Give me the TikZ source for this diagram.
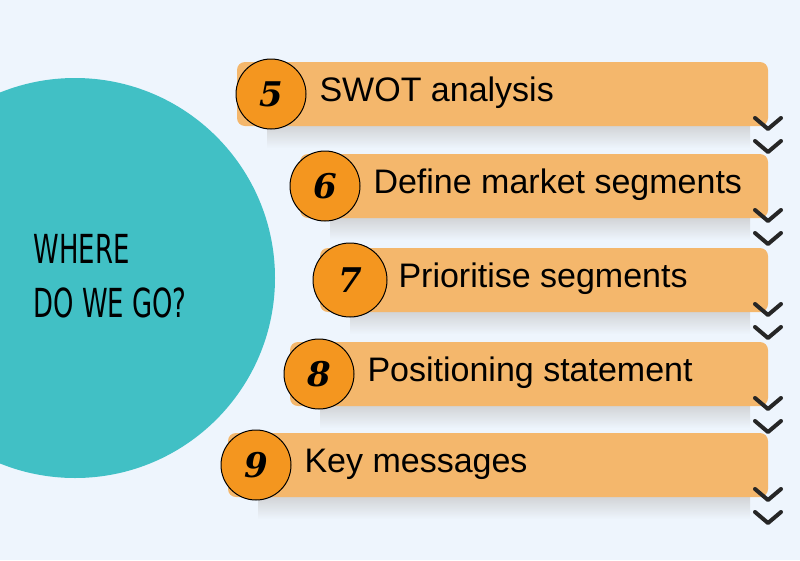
\documentclass[tikz,border=0pt]{standalone}
\usepackage{fontspec}
\setmainfont{Liberation Sans}
\newfontfamily\condfont{DejaVu Sans Condensed}
\newfontfamily\numfont{DejaVu Serif}
\begin{document}
\begin{tikzpicture}[x=1pt,y=-1pt,
  bar/.style={fill=barorange,rounded corners=8pt},
  num/.style={circle,draw=black,line width=1pt,fill=numorange,inner sep=0pt,font=\numfont\bfseries\itshape\fontsize{34}{34}\selectfont},
  lbl/.style={anchor=west,font=\fontsize{34}{34}\selectfont},
  chev/.style={line width=4pt,line cap=round,line join=round,draw=black!85}]
\definecolor{bg}{HTML}{EEF5FD}
\definecolor{barorange}{HTML}{F4B76C}
\definecolor{numorange}{HTML}{F4961F}
\definecolor{teal}{HTML}{41C0C5}
\fill[bg] (0,0) rectangle (800,560);
\useasboundingbox (0,0) rectangle (800,560);
\fill[teal] (75,278) circle (200);
\node[anchor=west,align=left,font=\condfont\fontsize{40}{54}\selectfont] (title) at (30,276) {\scalebox{0.72}[1]{WHERE}\\\scalebox{0.72}[1]{DO WE GO?}};
\foreach \i/\xs/\yt/\cx/\n/\t in {1/237/62/271/5/SWOT analysis,2/300/154/325/6/Define market segments,3/320/248/350/7/Prioritise segments,4/290/342/319/8/Positioning statement,5/228/433/256/9/Key messages}{
  \shade[top color=black!22,bottom color=bg,opacity=0.7] (\xs+30,\yt+64) rectangle (750,\yt+86);
  \fill[bar] (\xs,\yt) rectangle (768,\yt+64);
  \node[num,minimum size={\i==3?74pt:70pt}] (n\i) at (\cx,\yt+32) {\n};
  \node[lbl] (t\i) at (\cx+45,\yt+31) {\t};
  \draw[chev] (755,\yt+56) -- (768,\yt+67) -- (781,\yt+56);
  \draw[chev] (755,\yt+79) -- (768,\yt+90) -- (781,\yt+79);
}
\end{tikzpicture}
\end{document}
